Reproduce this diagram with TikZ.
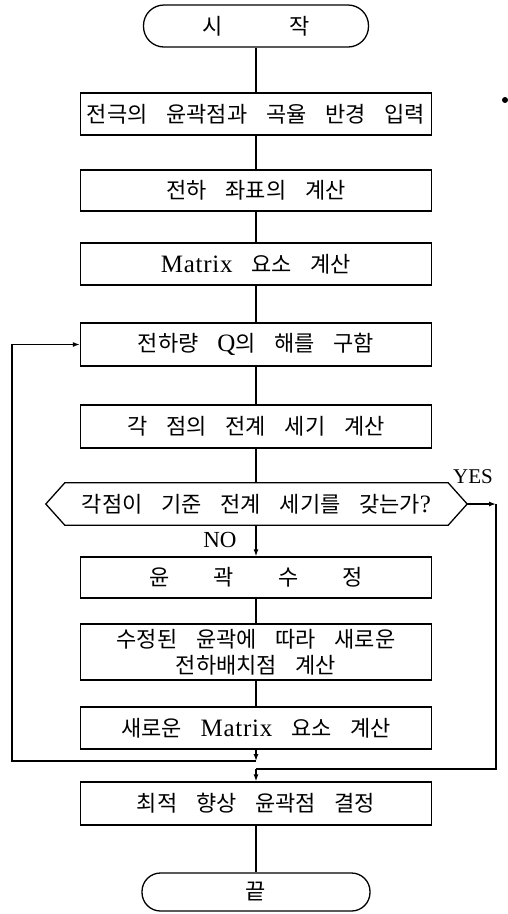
\documentclass[tikz,border=0pt]{standalone}
\usepackage{fontspec}
\setmainfont{Liberation Serif}
\newfontfamily\kr[WordSpace=3.8]{Noto Sans CJK KR}
\newfontfamily\latf[LetterSpace=3]{Liberation Serif}
\usetikzlibrary{arrows.meta}
\newcommand\lat[1]{{\latf\fontsize{25}{26}\selectfont #1}}
\begin{document}
\begin{tikzpicture}[x=1pt,y=-1pt,
  ln/.style={line width=1.3pt},
  arr/.style={ln,-{Latex[length=7pt,width=5pt]}},
  txt/.style={font=\kr\fontsize{22}{26}\selectfont, align=center, inner sep=0pt},
  box/.style={txt, draw, line width=1.3pt, minimum width=351pt, minimum height=42pt},
  term/.style={txt, draw, line width=1.3pt, minimum width=225pt, minimum height=42pt, rounded corners=20.5pt},
  lbl/.style={font=\fontsize{23}{24}\selectfont, inner sep=0pt}
]
\useasboundingbox (0,0) rectangle (508,914);

\node[term] (start) at (256,26) {시\hspace{66pt}작};
\node[box] (b1) at (256,114) {전극의 윤곽점과 곡율 반경 입력};
\node[box, minimum height=41pt] (b2) at (256,190.5) {전하 좌표의 계산};
\node[box] (b3) at (256,264) {\lat{Matrix} 요소 계산};
\node[box, minimum height=43pt] (b4) at (256,344.5) {전하량 \lat{Q}의 해를 구함};
\node[box, minimum height=43pt] (b5) at (256,426.5) {각 점의 전계 세기 계산};
\node[txt, minimum width=421pt, minimum height=42pt] (dec) at (256.5,504) {각점이 기준 전계 세기를 갖는가\lat{?}};
\draw[ln] (dec.west) -- ([xshift=19pt]dec.north west) -- ([xshift=-19pt]dec.north east)
  -- (dec.east) -- ([xshift=-19pt]dec.south east) -- ([xshift=19pt]dec.south west) -- cycle;
\node[box, minimum height=41pt] (b6) at (256,577.5) {윤\hspace{44pt}곽\hspace{44pt}수\hspace{44pt}정};
\node[box, minimum height=56pt] (b7) at (256,652) {수정된 윤곽에 따라 새로운\\전하배치점 계산};
\node[box] (b8) at (256,728) {새로운 \lat{Matrix} 요소 계산};
\node[box, minimum height=43pt] (b9) at (256,803.5) {최적 향상 윤곽점 결정};
\node[term, minimum width=228pt, minimum height=38pt, rounded corners=18.5pt] (end) at (256,892) {끝};

\node[lbl, font=\fontsize{21}{22}\selectfont] (yes) at (473,477) {YES};
\node[lbl] (no) at (220,540) {NO};

\draw[ln] (start.south) -- (b1.north);
\draw[ln] (b1.south) -- (b2.north);
\draw[ln] (b2.south) -- (b3.north);
\draw[ln] (b3.south) -- (b4.north);
\draw[ln] (b4.south) -- (b5.north);
\draw[ln] (b5.south) -- (dec.north -| b5.south);
\draw[arr] (dec.south -| b6.north) -- (b6.north);
\draw[ln] (b6.south) -- (b7.north);
\draw[ln] (b7.south) -- (b8.north);

\coordinate (j1) at (256,761);
\coordinate (lc) at (12,761);
\draw[arr] (b8.south) -- (j1);
\draw[arr] (j1) -- (lc) |- (b4.west);

\coordinate (yc) at (496,504);
\coordinate (yb) at (496,769);
\coordinate (j2) at (256,769);
\draw[arr] (dec.east) -- (yc);
\draw[ln] (yc) -- (yb) -- (j2);
\draw[arr] (j2) -- (b9.north);

\draw[ln] (b9.south) -- (end.north);

\fill (505,100) circle (3pt);
\end{tikzpicture}
\end{document}
